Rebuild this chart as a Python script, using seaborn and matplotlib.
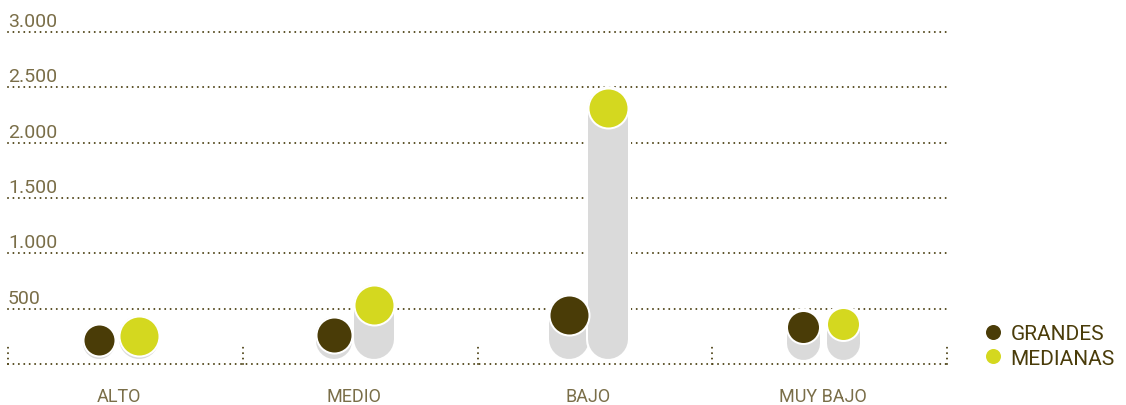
import matplotlib
matplotlib.use("Agg")
import matplotlib.pyplot as plt
import matplotlib.patheffects as pe
from matplotlib.lines import Line2D
import seaborn as sns

# ---------------- data ----------------
categories = ["ALTO", "MEDIO", "BAJO", "MUY BAJO"]
series_names = ["GRANDES", "MEDIANAS"]
grandes = [215, 260, 445, 330]
medianas = [250, 530, 2310, 360]
y_ticks = [500, 1000, 1500, 2000, 2500, 3000]
y_tick_labels = ["500", "1.000", "1.500", "2.000", "2.500", "3.000"]
values = {"GRANDES": grandes, "MEDIANAS": medianas}

# ---------------- style ----------------
W, H, DPI = 1126, 406, 100
PT = 72.0 / DPI  # points per pixel
colors = {"GRANDES": "#4a3c07", "MEDIANAS": "#d4d81f"}
diam_px = {"GRANDES": [32, 36, 40, 33], "MEDIANAS": [40, 40, 40, 33]}
x_offset = {"GRANDES": -0.112, "MEDIANAS": 0.058}
bar_gray = "#dadada"
grid_col = "#4d4215"
tick_col = "#7a6e48"
legend_col = "#4a3c0a"

sns.set_theme(style="white")
plt.rcParams["font.family"] = ["Roboto", "DejaVu Sans"]

fig = plt.figure(figsize=(W / DPI, H / DPI), dpi=DPI)
ax_left, ax_right, ax_top, ax_bottom = 8, 947, 33, 365
ax = fig.add_axes([ax_left / W, (H - ax_bottom) / H,
                   (ax_right - ax_left) / W, (ax_bottom - ax_top) / H])
ax.set_xlim(-0.5, len(categories) - 0.5)
ax.set_ylim(0, 3000)
ax.set_axis_off()
ppu = (ax_bottom - ax_top) / 3000.0  # pixels per unit

dot_style = dict(color=grid_col, lw=2 * PT, linestyle=(0, (0.01, 2.7)),
                 dash_capstyle="round", clip_on=False, zorder=1)

# gridlines and baseline
for v in [0] + y_ticks:
    ax.axhline(v, 0, 1, **dot_style)
# group separators
for i in range(len(categories) + 1):
    ax.plot([i - 0.5, i - 0.5], [0, 190], **dot_style)

# tick labels
for v, lab in zip(y_ticks, y_tick_labels):
    ax.annotate(lab, xy=(0, v), xycoords=("axes fraction", "data"),
                xytext=(0, 6 * PT), textcoords="offset points",
                ha="left", va="baseline", fontsize=14, color=tick_col,
                fontweight="normal")

# bars (rounded) and circles
for s in series_names:
    for i, v in enumerate(values[s]):
        x = i + x_offset[s]
        d = diam_px[s][i]
        r = d / 2.0
        bottom = min((5 + r) / ppu, v)
        ax.plot([x, x], [bottom, v], color=bar_gray, lw=d * PT,
                solid_capstyle="round", clip_on=False, zorder=3,
                path_effects=[pe.Stroke(linewidth=(d + 5) * PT, foreground="white"),
                              pe.Normal()])
        sns.scatterplot(x=[x], y=[v], s=(d * PT) ** 2, color=colors[s],
                        edgecolor="white", linewidth=2 * PT, zorder=5,
                        clip_on=False, legend=False, ax=ax)

# category labels
mid = (x_offset["GRANDES"] + x_offset["MEDIANAS"]) / 2.0
for i, c in enumerate(categories):
    ax.annotate(c, xy=(i + mid, 0), xycoords="data",
                xytext=(0, -37 * PT), textcoords="offset points",
                ha="center", va="baseline", fontsize=13, color=tick_col,
                fontweight="normal")

# legend
handles = [Line2D([], [], ls="none", marker="o", ms=15 * PT,
                  mfc=colors[s], mec="none") for s in series_names]
ax.legend(handles, series_names, loc="center left",
          bbox_to_anchor=(984.6 / W, (H - 347) / H), bbox_transform=fig.transFigure,
          frameon=False, fontsize=15, handlelength=0.8, handletextpad=0.45,
          labelspacing=0.25, borderpad=0, borderaxespad=0, labelcolor=legend_col)

fig.savefig("out.png", dpi=DPI)
